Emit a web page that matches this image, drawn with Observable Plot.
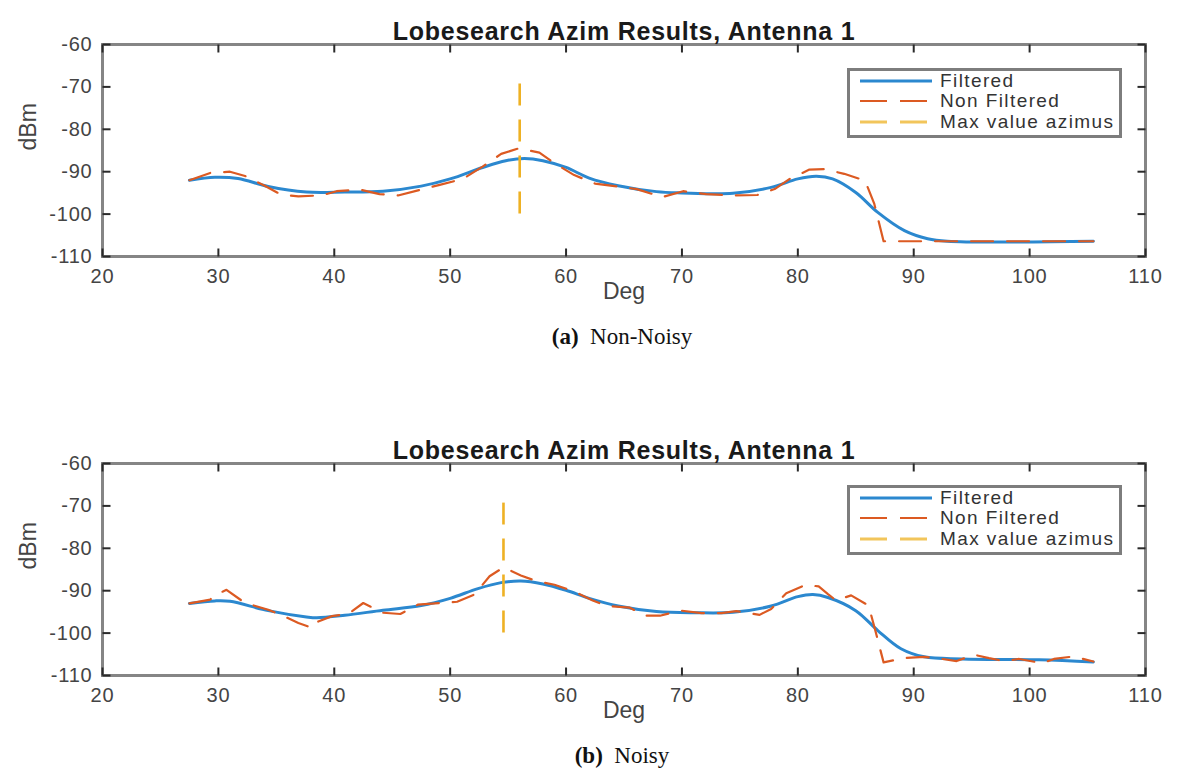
<!DOCTYPE html>
<html>
<head>
<meta charset="utf-8">
<script src="https://cdn.jsdelivr.net/npm/d3@7"></script>
<script src="https://cdn.jsdelivr.net/npm/@observablehq/plot@0.6"></script>
<style>
  body { margin: 0; background: #fff; }
  #fig { position: relative; width: 1180px; height: 771px; overflow: hidden;
         font-family: "Liberation Sans", Arial, sans-serif; }
  .panel { position: absolute; left: 0; width: 1180px; height: 320px; }
  .panel svg { position: absolute; left: 0; top: 0; }
  .legend { position: absolute; left: 847px; width: 269px; height: 64px;
            border: 3px solid #7d7d7d; background: #fff; }
  .legend .row { position: absolute; left: 0; height: 20px; line-height: 20px; display: flex; align-items: center;
                 font-size: 19px; color: #333; letter-spacing: 1.4px; white-space: nowrap; }
  .legend .row svg { position: static; margin-left: 10px; margin-right: 8px; }
  .caption { position: absolute; left: 322px; width: 600px; text-align: center;
             font-family: "Liberation Serif", "Times New Roman", serif; font-size: 23px; color: #111; }
  .ticklab text { letter-spacing: 0.8px; }
</style>
</head>
<body>
<div id="fig"></div>
<script>
// Shared axis ticks and labels
const xTicks = [20, 30, 40, 50, 60, 70, 80, 90, 100, 110];
const yTicks = [-110, -100, -90, -80, -70, -60];
const chartTitle = "Lobesearch Azim Results, Antenna 1";
const xLabel = "Deg";
const yLabel = "dBm";
const seriesNames = ["Filtered", "Non Filtered", "Max value azimus"];

// (a) Non-noisy run: [azimuth deg, dBm]
const filteredA = [
  [27.5, -92], [29.7, -91.3], [31.7, -91.6], [34.3, -93.5], [37.6, -94.8], [40.9, -94.8],
  [44.2, -94.6], [47.5, -93.4], [50, -91.7], [52.8, -89], [54.8, -87.4], [56.4, -86.9],
  [58, -87.4], [60, -89], [62, -91.5], [64.5, -93.3], [67.8, -94.7], [70, -95],
  [74.4, -95.1], [77.7, -93.7], [80, -91.7], [81.6, -91.1], [83, -91.7], [85, -94.9],
  [86.9, -99.6], [89.2, -103.9], [91.2, -105.8], [92.9, -106.4], [105.5, -106.4]
];
const nonFilteredA = [
  [27.5, -92], [29.3, -90.3], [31, -90], [32.3, -91], [34, -93.3], [35.4, -95.4],
  [36.9, -95.8], [38.9, -95.6], [40.2, -94.6], [42.2, -94.2], [43.9, -95.3], [45.5, -95.6],
  [47.5, -94.2], [49.1, -93.1], [51.1, -91.7], [52.8, -88.8], [54.4, -85.8], [55.9, -84.5],
  [57.7, -85.5], [59, -88], [60.7, -90.8], [62.5, -92.8], [66.1, -94.1], [68.3, -96],
  [70.1, -94.6], [72.1, -95.3], [74.4, -95.6], [76.5, -95.5], [78, -94.1], [79.3, -91.7],
  [81, -89.5], [82.3, -89.4], [84, -90.5], [85.8, -92.1], [86.6, -97.6], [87.4, -106.4],
  [105.5, -106.4]
];
const maxAzimuthA = 56.0;

// (b) Noisy run: [azimuth deg, dBm]
const filteredB = [
  [27.5, -93], [29.7, -92.4], [31, -92.5], [34.3, -94.7], [37.6, -96.2], [38.5, -96.4],
  [40.9, -95.8], [44.2, -94.6], [47.5, -93.5], [50, -91.8], [52.4, -89.5], [54.4, -88.1],
  [56.1, -87.7], [58, -88.4], [60, -89.9], [62, -91.8], [64.5, -93.6], [67.8, -94.9],
  [71.1, -95.2], [74.4, -95.1], [77.7, -93.6], [80, -91.4], [81.3, -90.9], [82.6, -91.6],
  [85, -94.7], [86.9, -99.4], [88.9, -103.7], [90.9, -105.6], [94.2, -106.1],
  [100.8, -106.3], [105.5, -106.8]
];
const nonFilteredB = [
  [27.5, -93], [29.3, -92.1], [29.6, -91.2], [30.7, -89.8], [32.3, -92.9], [34.3, -94.5],
  [35.3, -95.6], [36.9, -97.6], [38.1, -98.8], [38.5, -97.4], [39.8, -96], [41.2, -95.5],
  [42.5, -92.9], [44.2, -95.2], [45.7, -95.5], [47.2, -93.3], [49.1, -92.9], [50.6, -92.6],
  [52.1, -90.9], [53.4, -86.6], [54.6, -84.5], [56.1, -86.4], [57.4, -87.7], [59, -88.6],
  [60.7, -90.2], [62.3, -92.3], [63.5, -93.6], [65.5, -94], [66.8, -95.9], [68.1, -95.9],
  [69.9, -94.7], [71.7, -95.3], [73.4, -95.3], [74.7, -94.8], [76.7, -95.7], [77.7, -94.3],
  [79, -90.6], [80.7, -88.6], [81.8, -89], [82.6, -90.8], [83.3, -92.3], [84.6, -91.1],
  [86.1, -93.5], [86.6, -98.5], [87.4, -106.9], [89.2, -105.9], [90.9, -105.6], [92.2, -106],
  [93.7, -106.6], [95.2, -105.1], [96.5, -105.9], [97.8, -106.6], [99.1, -106.1],
  [101.1, -107.1], [102.1, -106.1], [103.8, -105.5], [105.5, -106.7]
];
const maxAzimuthB = 54.6;

// vertical extent of the max-azimuth marker
const markerSpan = [-100, -69];

const colors = { filtered: "#2b88cf", raw: "#dc5a22", marker: "#eeb124" };
const dash = "22,14";

const W = 1180, H = 320, mL = 102, mR = 35, mT = 44, mB = 64;
const innerW = W - mL - mR, innerH = H - mT - mB, tick = 8;
// tick length expressed in data units
const tickY = tick * 50 / innerH, tickX = tick * 90 / innerW;

function panel(filtered, raw, maxAz) {
  const tickStyle = { stroke: "#2a2a2a", strokeWidth: 2 };
  return Plot.plot({
    width: W, height: H,
    marginLeft: mL, marginRight: mR, marginTop: mT, marginBottom: mB,
    x: { domain: [20, 110] },
    y: { domain: [-110, -60] },
    style: { fontFamily: "Liberation Sans, Arial, sans-serif", fontSize: "20px", color: "#444", background: "transparent", overflow: "visible" },
    marks: [
      Plot.line(filtered, { x: d => d[0], y: d => d[1], stroke: colors.filtered, strokeWidth: 3, curve: "catmull-rom" }),
      Plot.line(raw, { x: d => d[0], y: d => d[1], stroke: colors.raw, strokeWidth: 2.2, strokeDasharray: dash }),
      Plot.ruleX([maxAz], { y1: markerSpan[0], y2: markerSpan[1], stroke: colors.marker, strokeWidth: 2.6, strokeDasharray: dash }),
      Plot.frame({ stroke: "#858585", strokeWidth: 3 }),
      // inward ticks on all four sides
      Plot.link(xTicks, { x1: d => d, x2: d => d, y1: d => -110, y2: d => -110 + tickY, ...tickStyle }),
      Plot.link(xTicks, { x1: d => d, x2: d => d, y1: d => -60, y2: d => -60 - tickY, ...tickStyle }),
      Plot.link(yTicks, { y1: d => d, y2: d => d, x1: d => 20, x2: d => 20 + tickX, ...tickStyle }),
      Plot.link(yTicks, { y1: d => d, y2: d => d, x1: d => 110, x2: d => 110 - tickX, ...tickStyle }),
      Plot.axisX(xTicks, { anchor: "bottom", tickSize: 0, tickPadding: 12, tickFormat: d => String(d), label: null, fontSize: 20, fill: "#444", className: "ticklab" }),
      Plot.axisY(yTicks, { anchor: "left", tickSize: 0, tickPadding: 10, tickFormat: d => String(d), label: null, fontSize: 20, fill: "#444", className: "ticklab" }),
      Plot.text([chartTitle], { text: d => d, frameAnchor: "top", dy: -22, fontSize: 25, fontWeight: "bold", fill: "#1a1a1a", className: "title" }),
      Plot.text([xLabel], { text: d => d, frameAnchor: "bottom", dy: 42, fontSize: 23, fill: "#444" }),
      Plot.text([yLabel], { text: d => d, frameAnchor: "left", dx: -74, rotate: -90, fontSize: 23, fill: "#444" })
    ]
  });
}

function legend(top) {
  const box = document.createElement("div");
  box.className = "legend";
  box.style.top = top + "px";
  const styles = [
    { color: colors.filtered, dash: null, width: 3 },
    { color: colors.raw, dash: dash, width: 2.2 },
    { color: colors.marker, dash: dash, width: 3, opacity: 0.75 }
  ];
  const rowTops = [0, 20, 41];
  seriesNames.forEach((name, i) => {
    const row = document.createElement("div");
    row.className = "row";
    row.style.top = rowTops[i] + "px";
    const s = styles[i];
    row.innerHTML = `<svg width="72" height="20"><line x1="0" x2="72" y1="10" y2="10" stroke="${s.color}" stroke-width="${s.width}" ${s.dash ? `stroke-dasharray="27,13"` : ""} ${s.opacity ? `stroke-opacity="${s.opacity}"` : ""}/></svg><span>${name}</span>`;
    box.appendChild(row);
  });
  return box;
}

const fig = document.getElementById("fig");

function addPanel(top, legendTop, filtered, raw, maxAz) {
  const p = document.createElement("div");
  p.className = "panel";
  p.style.top = top + "px";
  const svg = panel(filtered, raw, maxAz);
  svg.querySelectorAll(".title text").forEach(t => t.style.letterSpacing = "0.75px");
  p.appendChild(svg);
  p.appendChild(legend(legendTop));
  fig.appendChild(p);
}

function addCaption(centerY, tag, text) {
  const c = document.createElement("div");
  c.className = "caption";
  c.style.top = (centerY - 14) + "px";
  c.innerHTML = `<b>(${tag})</b>&nbsp; ${text}`;
  fig.appendChild(c);
}

addPanel(0, 68, filteredA, nonFilteredA, maxAzimuthA);
addCaption(338, "a", "Non-Noisy");
addPanel(419, 66, filteredB, nonFilteredB, maxAzimuthB);
addCaption(757, "b", "Noisy");
</script>
</body>
</html>
